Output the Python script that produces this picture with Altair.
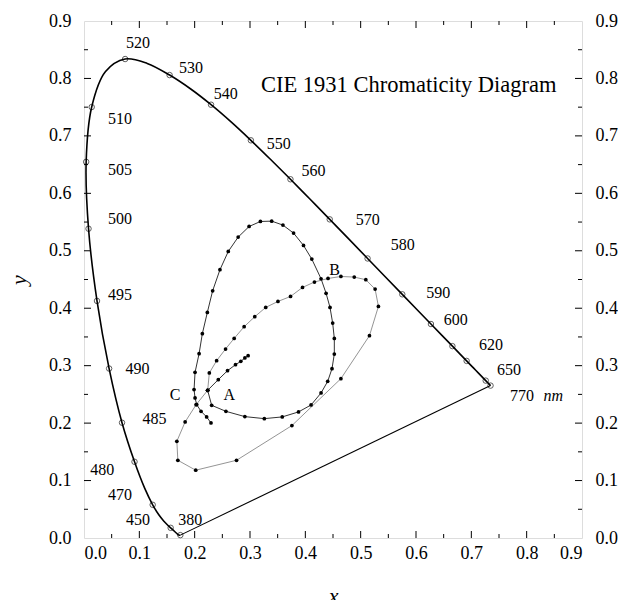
import altair as alt
import pandas as pd

# ---- Spectral locus (CIE 1931 2 deg) ----
locus_wl = [380, 400, 420, 430, 440, 450, 455, 460, 465, 470, 475, 480, 485, 490, 495,
            500, 505, 510, 515, 520, 525, 530, 535, 540, 545, 550, 555, 560, 565, 570,
            575, 580, 585, 590, 595, 600, 605, 610, 615, 620, 625, 630, 640, 650, 660,
            680, 700, 770]
locus_x = [0.1741, 0.1733, 0.1714, 0.1689, 0.1644, 0.1566, 0.1510, 0.1440, 0.1355, 0.1241,
           0.1096, 0.0913, 0.0687, 0.0454, 0.0235, 0.0082, 0.0039, 0.0139, 0.0389, 0.0743,
           0.1142, 0.1547, 0.1929, 0.2296, 0.2658, 0.3016, 0.3373, 0.3731, 0.4087, 0.4441,
           0.4788, 0.5125, 0.5448, 0.5752, 0.6029, 0.6270, 0.6482, 0.6658, 0.6801, 0.6915,
           0.7006, 0.7079, 0.7190, 0.7260, 0.7300, 0.7334, 0.7347, 0.7347]
locus_y = [0.0050, 0.0048, 0.0051, 0.0069, 0.0109, 0.0177, 0.0227, 0.0297, 0.0399, 0.0578,
           0.0868, 0.1327, 0.2007, 0.2950, 0.4127, 0.5384, 0.6548, 0.7502, 0.8120, 0.8338,
           0.8262, 0.8059, 0.7816, 0.7543, 0.7243, 0.6923, 0.6589, 0.6245, 0.5896, 0.5547,
           0.5202, 0.4866, 0.4544, 0.4242, 0.3965, 0.3725, 0.3514, 0.3340, 0.3197, 0.3083,
           0.2993, 0.2920, 0.2809, 0.2740, 0.2700, 0.2666, 0.2653, 0.2653]
marker_wl = [380, 450, 470, 480, 485, 490, 495, 500, 505, 510, 520, 530, 540, 550, 560,
             570, 580, 590, 600, 610, 620, 650, 770]

# ---- Wavelength labels ----
lab_text = ["520", "530", "540", "550", "560", "570", "580", "590", "600", "620", "650",
            "510", "505", "500", "495", "490", "485", "480", "470", "450", "380", "770"]
lab_x = [0.0974, 0.1932, 0.2562, 0.3520, 0.4149, 0.5129, 0.5761, 0.6403, 0.6717, 0.7355, 0.7679,
         0.0650, 0.0650, 0.0650, 0.0650, 0.0967, 0.1273, 0.0329, 0.0650, 0.0974, 0.1918, 0.7915]
lab_y = [0.8610, 0.8177, 0.7725, 0.6856, 0.6397, 0.5539, 0.5104, 0.4264, 0.3788, 0.3353, 0.2918,
         0.7296, 0.6409, 0.5557, 0.4235, 0.2943, 0.2073, 0.1191, 0.0757, 0.0322, 0.0322, 0.2466]

# ---- Curve letters ----
let_text = ["A", "B", "C"]
let_x = [0.2624, 0.4530, 0.1648]
let_y = [0.2484, 0.4660, 0.2496]

# ---- Curve A (spiral ending at the white point) ----
a_x = [0.2966, 0.2907, 0.2834, 0.2738, 0.2594, 0.2427, 0.2235, 0.2307, 0.2565, 0.2907, 0.3259,
       0.3583, 0.3877, 0.4104, 0.4284, 0.4404, 0.4482, 0.4524, 0.4524, 0.4494, 0.4446, 0.4375,
       0.4284, 0.4117, 0.3967, 0.3787, 0.3595, 0.3392, 0.3188, 0.2984, 0.2786, 0.2607, 0.2457,
       0.2325, 0.2229, 0.2139, 0.2080, 0.2007, 0.1989, 0.2007, 0.2037, 0.2115, 0.2216, 0.2295]
a_y = [0.3174, 0.3134, 0.3075, 0.3017, 0.2913, 0.2757, 0.2571, 0.2310, 0.2205, 0.2113, 0.2078,
       0.2108, 0.2195, 0.2316, 0.2525, 0.2727, 0.2948, 0.3203, 0.3475, 0.3742, 0.4014, 0.4260,
       0.4513, 0.4855, 0.5093, 0.5308, 0.5447, 0.5516, 0.5510, 0.5423, 0.5238, 0.4988, 0.4670,
       0.4304, 0.3927, 0.3557, 0.3209, 0.2884, 0.2583, 0.2438, 0.2322, 0.2205, 0.2108, 0.2003]

# ---- Curve B (outer loop) ----
b_x = [0.2235, 0.2265, 0.2397, 0.2558, 0.2714, 0.2894, 0.3086, 0.3284, 0.3505, 0.3733, 0.3949,
       0.4165, 0.4410, 0.4643, 0.4884, 0.5093, 0.5261, 0.5321, 0.5159, 0.4643, 0.3757, 0.2757,
       0.2019, 0.1696, 0.1678, 0.1828, 0.2026, 0.2235]
b_y = [0.2571, 0.2873, 0.3087, 0.3290, 0.3475, 0.3678, 0.3852, 0.4014, 0.4118, 0.4205, 0.4362,
       0.4456, 0.4518, 0.4553, 0.4542, 0.4496, 0.4333, 0.4032, 0.3522, 0.2774, 0.1957, 0.1353,
       0.1180, 0.1353, 0.1684, 0.2021, 0.2320, 0.2571]

axis_vals = [0.0, 0.1, 0.2, 0.3, 0.4, 0.5, 0.6, 0.7, 0.8, 0.9]
major_ticks = [0.1, 0.2, 0.3, 0.4, 0.5, 0.6, 0.7, 0.8]
minor_ticks = [0.05, 0.15, 0.25, 0.35, 0.45, 0.55, 0.65, 0.75, 0.85]

title_text = "CIE 1931  Chromaticity Diagram"
title_pos = (0.5869, 0.7887)

W, H = 498, 517
FONT = "Liberation Serif"

locus = pd.DataFrame({"wl": locus_wl, "x": locus_x, "y": locus_y})
markers = locus[locus["wl"].isin(marker_wl)]
purple = locus[locus["wl"].isin([380, 770])]
labels = pd.DataFrame({"t": lab_text, "x": lab_x, "y": lab_y})
letters = pd.DataFrame({"t": let_text, "x": let_x, "y": let_y})
cA = pd.DataFrame({"i": list(range(len(a_x))), "x": a_x, "y": a_y})
cB = pd.DataFrame({"i": list(range(len(b_x))), "x": b_x, "y": b_y})

xs = alt.Scale(domain=[0, 0.9], nice=False, zero=False)
ys = alt.Scale(domain=[0, 0.9], nice=False, zero=False)

ax_common = dict(values=axis_vals, format=".1f", ticks=False, domain=False, grid=False,
                 labelFont=FONT, labelFontSize=18, labelColor="black")

x_axis = alt.Axis(title="x", labelPadding=6, titleFont=FONT,
                  titleFontSize=22, titleFontStyle="italic", titleFontWeight="normal",
                  titleColor="black", titleY=64, titleBaseline="alphabetic", **ax_common)

def X(field="x"):
    return alt.X(f"{field}:Q", scale=xs, axis=x_axis)

Y_left = alt.Y("y:Q", scale=ys, axis=alt.Axis(title="y", labelPadding=13, titleFont=FONT,
               titleFontSize=22, titleFontStyle="italic", titleFontWeight="normal",
               titleColor="black", titleX=-66, titleY=H / 2, titleAngle=270,
               titleBaseline="middle", titleAlign="center", **ax_common))
Y_right = alt.Y("y:Q", scale=ys, axis=alt.Axis(title=None, orient="right", labelPadding=13,
                **ax_common))
Yn = alt.Y("y:Q", scale=ys, axis=None)

locus_line = alt.Chart(locus).mark_line(color="black", strokeWidth=1.6,
                                        interpolate="catmull-rom").encode(
    x=X(), y=Y_left, order="wl:Q")
purple_line = alt.Chart(purple).mark_line(color="black", strokeWidth=1.1).encode(
    x=X(), y=Y_right, order="wl:Q")
marker_pts = alt.Chart(markers).mark_point(shape="circle", filled=False, size=30,
                                           color="black", strokeWidth=0.9).encode(x=X(), y=Yn)

lineA = alt.Chart(cA).mark_line(color="#333333", strokeWidth=1.0).encode(x=X(), y=Yn, order="i:Q")
ptsA = alt.Chart(cA).mark_circle(color="black", size=14, opacity=1).encode(x=X(), y=Yn)
lineB = alt.Chart(cB).mark_line(color="#888888", strokeWidth=0.9).encode(x=X(), y=Yn, order="i:Q")
ptsB = alt.Chart(cB).mark_circle(color="black", size=14, opacity=1).encode(x=X(), y=Yn)

lab_layer = alt.Chart(labels).mark_text(font=FONT, fontSize=16, color="black",
                                        align="center", baseline="middle").encode(
    x=X(), y=Yn, text="t:N")
nm_layer = alt.Chart(pd.DataFrame({"t": ["nm"], "x": [0.848], "y": [0.2466]})).mark_text(
    font=FONT, fontSize=16, fontStyle="italic", color="black", align="center",
    baseline="middle").encode(x=X(), y=Yn, text="t:N")
let_layer = alt.Chart(letters).mark_text(font=FONT, fontSize=16, color="black",
                                         align="center", baseline="middle").encode(
    x=X(), y=Yn, text="t:N")
title_layer = alt.Chart(pd.DataFrame({"t": [title_text], "x": [title_pos[0]],
                                      "y": [title_pos[1]]})).mark_text(
    font=FONT, fontSize=22.5, color="black", align="center", baseline="middle").encode(
    x=X(), y=Yn, text="t:N")

def tick_layers(vals, length):
    df = pd.DataFrame({"x": vals, "y": vals})
    base = alt.Chart(df).mark_rule(color="black", strokeWidth=1)
    return [
        base.encode(x=X(), y=alt.value(H), y2=alt.value(H - length)),
        base.encode(x=X(), y=alt.value(0), y2=alt.value(length)),
        base.encode(y=Yn, x=alt.value(0), x2=alt.value(length)),
        base.encode(y=Yn, x=alt.value(W), x2=alt.value(W - length)),
    ]

ticks = tick_layers(major_ticks, 7) + tick_layers(minor_ticks, 4)

chart = alt.layer(
    locus_line, purple_line, marker_pts, lineB, lineA, ptsB, ptsA,
    lab_layer, nm_layer, let_layer, title_layer, *ticks
).resolve_axis(y="independent").properties(
    width=W, height=H,
    autosize=alt.AutoSizeParams(type="none"),
    padding={"left": 76, "top": 13, "right": 36, "bottom": 70},
).configure_view(stroke="black", strokeWidth=1.3).configure(background="white")

chart.save("out.html", embed_options={"renderer": "svg", "actions": False})
